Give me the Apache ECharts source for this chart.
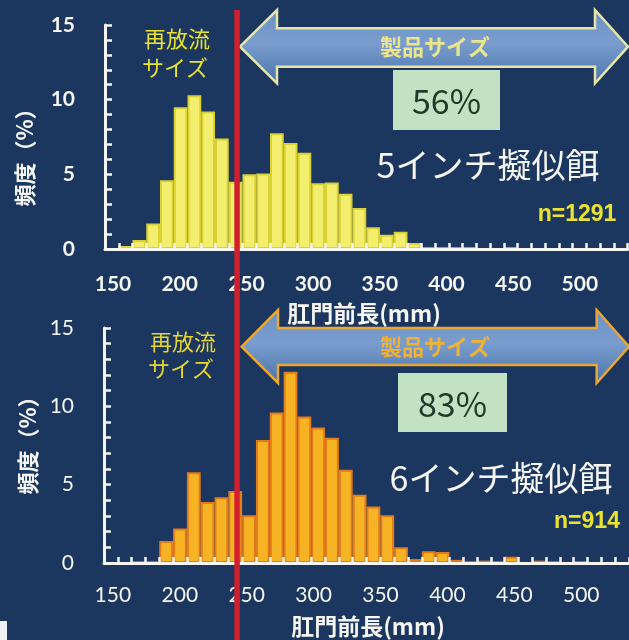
<!DOCTYPE html>
<html><head><meta charset="utf-8">
<script src="https://cdn.jsdelivr.net/npm/echarts@6.0.0/dist/echarts.min.js"></script>
<style>html,body{margin:0;padding:0;background:#1b365f;}#wrap{position:relative;width:629px;height:640px;}#c,#ov{position:absolute;left:0;top:0;width:629px;height:640px;}#ov{pointer-events:none;}</style>
</head><body><div id="wrap"><div id="c"></div><div id="ov"></div></div>
<script>
// bin names (mm, bin centre) for the histogram categories
const BINS = ['150','160','170','180','190','200','210','220','230','240','250','260','270','280','290','300','310','320','330','340','350','360','370','380','390','400','410','420','430','440','450','460','470','480','490','500','510','520'];
// frequency (%) – 5 inch lure
const FREQ_5INCH = [0,0.2,0.6,1.7,4.6,9.5,10.3,9.2,7.4,4.5,5.0,5.05,7.75,7.1,6.45,4.4,4.45,3.7,2.75,1.45,0.95,1.15,0.4,0.1,0.1,0.1,0.1,0,0,0.1,0,0,0,0,0,0,0,0];
// frequency (%) – 6 inch lure
const FREQ_6INCH = [0,0,0.1,0.1,1.4,2.2,5.8,3.9,4.2,4.6,3.05,7.85,9.6,12.2,9.35,8.65,8.0,5.95,4.35,3.6,3.05,1.0,0.25,0.75,0.7,0.2,0.1,0.15,0.1,0.4,0,0.15,0.1,0,0.1,0,0,0];
const X_TICK_LABELS = [150,200,250,300,350,400,450,500];
const Y_MIN = 0, Y_MAX = 15, Y_STEP = 5;
const RELEASE_LIMIT = 243;            // 再放流サイズ boundary (mm)
const LABELS_TOP = {lure:'5インチ擬似餌', n:'n=1291', share:'56%'};
const LABELS_BOTTOM = {lure:'6インチ擬似餌', n:'n=914', share:'83%'};
const X_NAME = '肛門前長(mm)';
const Y_NAME = '頻度（%）';

const CJK = '"Noto Sans CJK JP"';
const WHITE = '#f5f5f2';

function catAxis(gi){
  return {type:'category', gridIndex:gi, data:BINS, position:'bottom', z:5,
    axisLine:{show:true, lineStyle:{color:WHITE, width:3}},
    axisTick:{show:true, inside:true, length:6, interval:0, lineStyle:{color:WHITE, width:2.5}},
    axisLabel:{show:false}, splitLine:{show:false}};
}
function labelAxis(gi, min, max, bold, margin, size){
  return {type:'value', gridIndex:gi, position:'bottom', min:min, max:max, offset:0,
    axisLine:{show:false}, axisTick:{show:false}, splitLine:{show:false},
    axisLabel:{show:true, customValues:X_TICK_LABELS, color:WHITE, fontFamily:'Lato',
      fontWeight:bold?'bold':'normal', fontSize:size, margin:margin}};
}
function mkY(gi, bold){
  return {type:'value', gridIndex:gi, min:Y_MIN, max:Y_MAX, interval:Y_STEP, z:5,
    axisLine:{show:true, lineStyle:{color:WHITE, width:3}},
    axisTick:{show:true, inside:true, length:7, lineStyle:{color:WHITE, width:2.5}},
    minorTick:{show:true, splitNumber:5, length:7, lineStyle:{color:WHITE, width:2.5}},
    splitLine:{show:false},
    axisLabel:{color:WHITE, fontFamily:'Lato', fontWeight:bold?'bold':'normal', fontSize:21, margin:30}};
}
function arrow(x0, xb0, xb1, x1, yc, yh0, yh1, ys0, ys1, stroke){
  return {type:'polygon', z:10,
    shape:{points:[[x0,yc],[xb0,yh0],[xb0,ys0],[xb1,ys0],[xb1,yh0],[x1,yc],[xb1,yh1],[xb1,ys1],[xb0,ys1],[xb0,yh1]]},
    style:{fill:new echarts.graphic.LinearGradient(0,0,0,1,[
      {offset:0,color:'#6b90c3'},{offset:0.45,color:'#7a9dce'},{offset:1,color:'#4a73a9'}]),
      stroke:stroke, lineWidth:2.5}};
}
function txt(x, y, text, fill, font, rot){
  const o = {type:'text', x:x, y:y, z:12, style:{text:text, fill:fill, font:font, align:'center', verticalAlign:'middle'}};
  if (rot) o.rotation = rot;
  return o;
}

// main chart: axes + histograms
const chart = echarts.init(document.getElementById('c'), null, {renderer:'canvas'});
chart.setOption({
  backgroundColor:'#1b365f',
  animation:false,
  grid:[
    {left:105, top:25, width:522.5, height:224},
    {left:104, top:328, width:532, height:235}
  ],
  xAxis:[
    catAxis(0),
    labelAxis(0, 144.0, 535.7, true, 25, 21),
    catAxis(1),
    labelAxis(1, 143.36, 535.7, false, 22, 21)
  ],
  yAxis:[mkY(0,true), mkY(1,false)],
  series:[
    {type:'bar', xAxisIndex:0, yAxisIndex:0, data:FREQ_5INCH, barWidth:'100%', z:2,
      itemStyle:{color:'#f4ee6e', borderColor:'#d9d232', borderWidth:2}},
    {type:'bar', xAxisIndex:2, yAxisIndex:1, data:FREQ_6INCH, barWidth:'100%', z:2,
      itemStyle:{color:'#f6b324', borderColor:'#e37b1d', borderWidth:2}}
  ]
});
// force a full display-list update and repaint (ticks were otherwise missing)
chart.getZr().storage.getDisplayList(true);
chart.getZr().refreshImmediately();

const rx = chart.convertToPixel({xAxisIndex:1}, RELEASE_LIMIT);

// overlay chart: annotations
const ov = echarts.init(document.getElementById('ov'), null, {renderer:'canvas'});
ov.setOption({
  backgroundColor:'transparent',
  animation:false,
  graphic:[
    txt(364, 313, X_NAME, WHITE, 'bold 23px '+CJK),
    txt(368, 626, X_NAME, WHITE, 'bold 23px '+CJK),
    txt(25, 152, Y_NAME, WHITE, 'bold 22px '+CJK, Math.PI/2),
    txt(28, 440, Y_NAME, WHITE, 'bold 22px '+CJK, Math.PI/2),
    txt(177, 39, '再放流', '#e9e22e', '22px '+CJK),
    txt(175, 68, 'サイズ', '#e9e22e', '22px '+CJK),
    txt(183, 342, '再放流', '#e6d532', '22px '+CJK),
    txt(181, 369, 'サイズ', '#e6d532', '22px '+CJK),
    arrow(240, 277, 595, 628, 46.7, 10, 83.3, 28.3, 66.7, '#e8e6a6'),
    txt(435, 47, '製品サイズ', '#ece58a', 'bold 22px '+CJK),
    arrow(241.7, 278, 596.7, 629, 346.7, 310, 383, 328, 365, '#e9a733'),
    txt(435, 347, '製品サイズ', '#efb235', 'bold 22px '+CJK),
    {type:'rect', z:10, shape:{x:393, y:70, width:107, height:60}, style:{fill:'#c3e2c4'}},
    txt(446.5, 101, LABELS_TOP.share, '#1f3a2a', '34px '+CJK),
    {type:'rect', z:10, shape:{x:398, y:373, width:109, height:59}, style:{fill:'#c3e2c4'}},
    txt(452.5, 404, LABELS_BOTTOM.share, '#1f3a2a', '34px '+CJK),
    txt(488, 165, LABELS_TOP.lure, WHITE, '34px '+CJK),
    txt(501, 478, LABELS_BOTTOM.lure, WHITE, '34px '+CJK),
    txt(577, 215, LABELS_TOP.n, '#e9e22e', 'bold 23px "Liberation Sans"'),
    txt(587, 522, LABELS_BOTTOM.n, '#e9e22e', 'bold 23px "Liberation Sans"'),
    {type:'rect', z:20, shape:{x:rx-2.75, y:10, width:5.5, height:630}, style:{fill:'#d11f2d'}},
    {type:'rect', z:20, shape:{x:0, y:621, width:7, height:19}, style:{fill:'#f2f2f2'}}
  ]
});
ov.getZr().storage.getDisplayList(true);
ov.getZr().refreshImmediately();
</script>
</body></html>
